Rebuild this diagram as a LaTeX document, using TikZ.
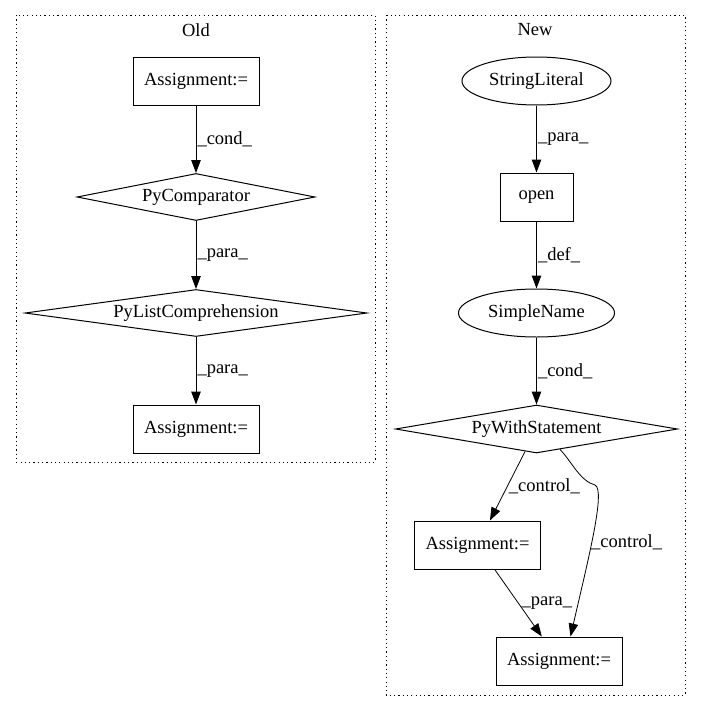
\documentclass[tikz,border=0pt]{standalone}
\usepackage{fontspec}
\setmainfont{Liberation Serif}
\usetikzlibrary{positioning,shapes.geometric,arrows.meta}

\tikzset{
  every node/.style={font=\fontsize{18.5}{22}\selectfont},
  box/.style={draw,line width=1pt,minimum width=126pt,minimum height=48pt,inner sep=2pt},
  oval/.style={draw,ellipse,line width=1pt,minimum height=48pt,inner sep=2pt},
  cond/.style={draw,diamond,aspect=7,line width=1pt,inner sep=0pt,minimum height=47pt},
  flow/.style={-{Triangle[length=13pt,width=9.5pt]},line width=1pt},
  lbl/.style={anchor=west,inner sep=1pt},
  cluster/.style={draw,line width=1pt,dash pattern=on 1.2pt off 3.1pt}
}

\begin{document}
\begin{tikzpicture}[x=1pt,y=-1pt,node distance=116pt]
		\useasboundingbox (0,0) rectangle (701,712);
		% clusters
		\draw[cluster] (16,15) rectangle (375,462);
		\draw[cluster] (386,15) rectangle (685,695);
		\node (old) at (196,30) {Old};
		\node (new) at (535,30) {New};
		% old graph
		\node[box] (a1) at (196,81) {Assignment:=};
		\node[cond,minimum width=238pt] (cmp) [below of=a1] {PyComparator};
		\node[cond,minimum width=342pt] (lc) [below of=cmp] {PyListComprehension};
		\node[box] (a2) [below of=lc] {Assignment:=};
		\draw (a1) edge[flow] node [lbl,midway] {\_cond\_} (cmp);
		\draw (cmp) edge[flow] node [lbl,midway] {\_para\_} (lc);
		\draw (lc) edge[flow] node [lbl,midway] {\_para\_} (a2);
		% new graph
		\node[oval,minimum width=149pt] (lit) at (536.5,81) {StringLiteral};
		\node[box,minimum width=73pt] (open) [below of=lit] {open};
		\node[oval,minimum width=156pt] (sn) [below of=open] {SimpleName};
		\node[cond,minimum width=282pt,minimum height=48pt] (with) [below of=sn] {PyWithStatement};
		\node[box] (a3) [below of=with,xshift=-59pt] {Assignment:=};
		\node[box] (a4) [below of=a3,xshift=81.5pt] {Assignment:=};
		\coordinate (bump) at (595,485);
		\draw (lit) edge[flow] node [lbl,midway] {\_para\_} (open);
		\draw (open) edge[flow] node [lbl,midway] {\_def\_} (sn);
		\draw (sn) edge[flow] node [lbl,midway] {\_cond\_} (with);
		\draw (with) edge[flow,line width=0.8pt] node [lbl,midway] {\_control\_} (a3);
		\draw (a3) edge[flow,line width=0.8pt] node [lbl,midway,xshift=2pt] {\_para\_} (a4);
		\draw[flow,line width=0.8pt] (with.-41) .. controls (572,462) and (580,481) .. (bump)
		  .. controls (606,490) and (588,560) .. node [lbl,pos=0.55,xshift=-2pt] {\_control\_} ([xshift=11.5pt]a4.north);
	\end{tikzpicture}
\end{document}
